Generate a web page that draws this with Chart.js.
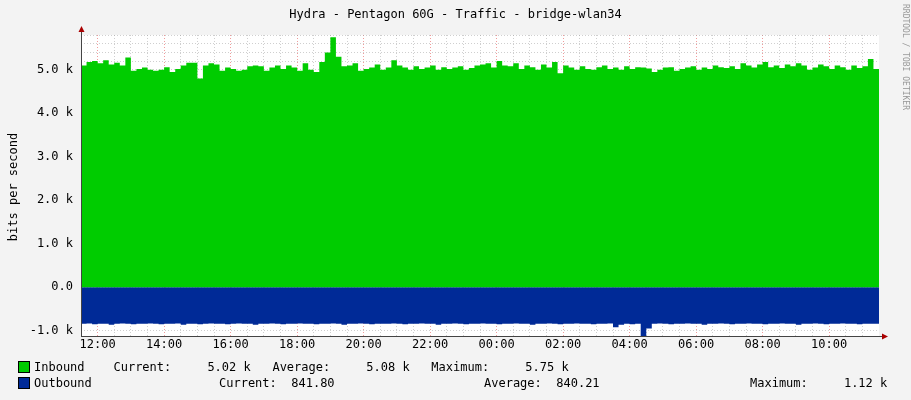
<!DOCTYPE html>
<html><head><meta charset="utf-8">
<script src="https://cdn.jsdelivr.net/npm/chart.js@4"></script>
<style>
body{margin:0;background:#f3f3f3;font-family:"DejaVu Sans Mono",monospace;font-size:12px;color:#000}
#wrap{position:relative;width:911px;height:400px}
.t{position:absolute;white-space:pre;line-height:14px}
.sq{position:absolute;width:10px;height:10px;border:1px solid #000}
</style></head><body>
<div id="wrap">
<canvas id="c" width="911" height="400"></canvas>
<div class="t" style="left:0;width:911px;text-align:center;top:7px">Hydra - Pentagon 60G - Traffic - bridge-wlan34</div>
<div class="t" style="left:-42px;top:180px;transform:rotate(-90deg);width:110px;text-align:center">bits per second</div>
<div class="t" style="left:850px;top:52px;transform:rotate(90deg);font-size:8px;color:#999;width:110px">RRDTOOL / TOBI OETIKER</div>
<div class="sq" style="left:18px;top:361px;background:#00cc00"></div>
<div class="sq" style="left:18px;top:377px;background:#002a97"></div>
<div class="t" style="left:34px;top:360px">Inbound    Current:     5.02 k   Average:     5.08 k   Maximum:     5.75 k</div>
<div class="t" style="left:34px;top:376px">Outbound</div>
<div class="t" style="left:219px;top:376px">Current:  841.80</div>
<div class="t" style="left:484px;top:376px">Average:  840.21</div>
<div class="t" style="left:750px;top:376px">Maximum:     1.12 k</div>
</div>
<script>
const startHour = 11.5;
const stepHours = 1/6;
const inbound = [
5.10,5.18,5.20,5.15,5.22,5.12,5.16,5.10,5.28,4.98,5.02,5.05,
5.00,4.98,5.00,5.06,4.95,5.02,5.10,5.16,5.16,4.80,5.10,5.15,
5.12,4.98,5.05,5.02,4.98,5.00,5.08,5.10,5.08,4.98,5.05,5.10,
5.02,5.10,5.05,4.98,5.15,5.00,4.95,5.18,5.40,5.75,5.30,5.08,
5.10,5.15,4.98,5.02,5.05,5.12,5.00,5.05,5.22,5.10,5.05,5.00,
5.08,5.02,5.05,5.10,5.00,5.06,5.02,5.05,5.08,5.00,5.04,5.10,
5.12,5.15,5.05,5.20,5.10,5.08,5.15,5.02,5.10,5.06,5.00,5.12,
5.05,5.18,4.92,5.10,5.05,5.00,5.08,5.02,5.00,5.06,5.10,5.02,
5.05,5.00,5.08,5.02,5.06,5.05,5.03,4.95,5.00,5.05,5.06,4.98,
5.02,5.05,5.08,5.00,5.05,5.02,5.10,5.06,5.04,5.08,5.02,5.15,
5.10,5.05,5.12,5.18,5.06,5.10,5.04,5.12,5.08,5.15,5.10,5.00,
5.05,5.12,5.08,5.02,5.10,5.06,5.00,5.10,5.04,5.08,5.25,5.02];
const outbound = [
-0.84,-0.83,-0.85,-0.84,-0.84,-0.86,-0.84,-0.83,-0.84,-0.85,-0.84,-0.84,
-0.83,-0.84,-0.85,-0.84,-0.84,-0.83,-0.86,-0.84,-0.84,-0.85,-0.84,-0.83,
-0.84,-0.84,-0.85,-0.84,-0.83,-0.84,-0.84,-0.86,-0.84,-0.84,-0.83,-0.84,
-0.85,-0.84,-0.84,-0.83,-0.84,-0.84,-0.85,-0.84,-0.84,-0.83,-0.84,-0.86,
-0.84,-0.84,-0.83,-0.84,-0.85,-0.84,-0.84,-0.84,-0.83,-0.84,-0.85,-0.84,
-0.84,-0.83,-0.84,-0.84,-0.86,-0.84,-0.84,-0.83,-0.84,-0.85,-0.84,-0.84,
-0.83,-0.84,-0.84,-0.85,-0.84,-0.84,-0.83,-0.84,-0.84,-0.86,-0.84,-0.84,
-0.83,-0.84,-0.85,-0.84,-0.84,-0.83,-0.84,-0.84,-0.85,-0.84,-0.84,-0.83,
-0.92,-0.86,-0.84,-0.85,-0.84,-1.12,-0.95,-0.84,-0.83,-0.84,-0.85,-0.84,
-0.84,-0.83,-0.84,-0.84,-0.86,-0.84,-0.84,-0.83,-0.84,-0.85,-0.84,-0.84,
-0.83,-0.84,-0.84,-0.85,-0.84,-0.84,-0.83,-0.84,-0.84,-0.86,-0.84,-0.84,
-0.83,-0.84,-0.85,-0.84,-0.84,-0.83,-0.84,-0.84,-0.85,-0.84,-0.84,-0.84];
const yTickLabels = {"-1":"-1.0 k","0":"0.0","1":"1.0 k","2":"2.0 k","3":"3.0 k","4":"4.0 k","5":"5.0 k"};
const toPts = a => a.map((v,i)=>({x:startHour+i*stepHours,y:v})).concat([{x:startHour+a.length*stepHours,y:a[a.length-1]}]);
const bgPlugin = {id:'bg',
 beforeDraw(ch){const {ctx,chartArea:a}=ch;ctx.save();ctx.fillStyle='#fff';ctx.fillRect(a.left,a.top,a.right-a.left,a.bottom-a.top);ctx.restore();},
 afterDraw(ch){const {ctx,chartArea:a}=ch;ctx.save();ctx.strokeStyle='#444';ctx.lineWidth=1;
  ctx.beginPath();ctx.moveTo(a.left+0.5,a.bottom);ctx.lineTo(a.left+0.5,a.top-6);ctx.moveTo(a.left,a.bottom+0.5);ctx.lineTo(a.right+6,a.bottom+0.5);ctx.stroke();
  ctx.fillStyle='#a00';ctx.beginPath();ctx.moveTo(a.left-2.5,a.top-3);ctx.lineTo(a.left+3.5,a.top-3);ctx.lineTo(a.left+0.5,a.top-9);ctx.fill();
  ctx.beginPath();ctx.moveTo(a.right+3,a.bottom-2.5);ctx.lineTo(a.right+3,a.bottom+3.5);ctx.lineTo(a.right+9,a.bottom+0.5);ctx.fill();
  ctx.restore();}};
new Chart(document.getElementById('c'),{
 type:'line',
 data:{datasets:[
  {data:toPts(inbound),stepped:true,fill:'origin',backgroundColor:'#00cc00',borderWidth:0,pointRadius:0},
  {data:toPts(outbound),stepped:true,fill:'origin',backgroundColor:'#002a97',borderWidth:0,pointRadius:0}]},
 plugins:[bgPlugin],
 options:{responsive:false,animation:false,events:[],
  layout:{padding:{left:0,right:32,top:35,bottom:42}},
  plugins:{legend:{display:false},tooltip:{enabled:false}},
  scales:{
   x:{type:'linear',min:11.5,max:35.5,afterFit(s){s.height=22;},
    ticks:{stepSize:0.5,autoSkip:false,maxRotation:0,color:'#000',font:{family:'DejaVu Sans Mono',size:12},padding:2,
      callback(v){return (Math.abs(v-Math.round(v))<1e-6 && Math.round(v)%2===0)?String(Math.round(v)%24).padStart(2,'0')+':00':'';}},
    grid:{drawTicks:false,color(c){const v=c.tick.value;if(v<=11.5||v>=35.5)return 'rgba(0,0,0,0)';return (Math.abs(v-Math.round(v))<1e-6&&Math.round(v)%2===0)?'rgba(230,90,90,0.6)':'rgba(160,160,160,0.5)';}},
    border:{display:false,dash:[1,2]}},
   y:{min:-1.12,max:5.8,afterFit(s){s.width=81;},
    afterBuildTicks(s){const t=[];for(let k=-5;k<=29;k++)t.push({value:k/5});s.ticks=t;},
    ticks:{autoSkip:false,color:'#000',font:{family:'DejaVu Sans Mono',size:12},padding:8,
      callback(v){const r=Math.round(v);return Math.abs(v-r)<1e-6?(yTickLabels[String(r)]||''):'';}},
    grid:{drawTicks:false,color:'rgba(160,160,160,0.5)'},
    border:{display:false,dash:[1,2]}}
  }}
});
</script>
</body></html>
